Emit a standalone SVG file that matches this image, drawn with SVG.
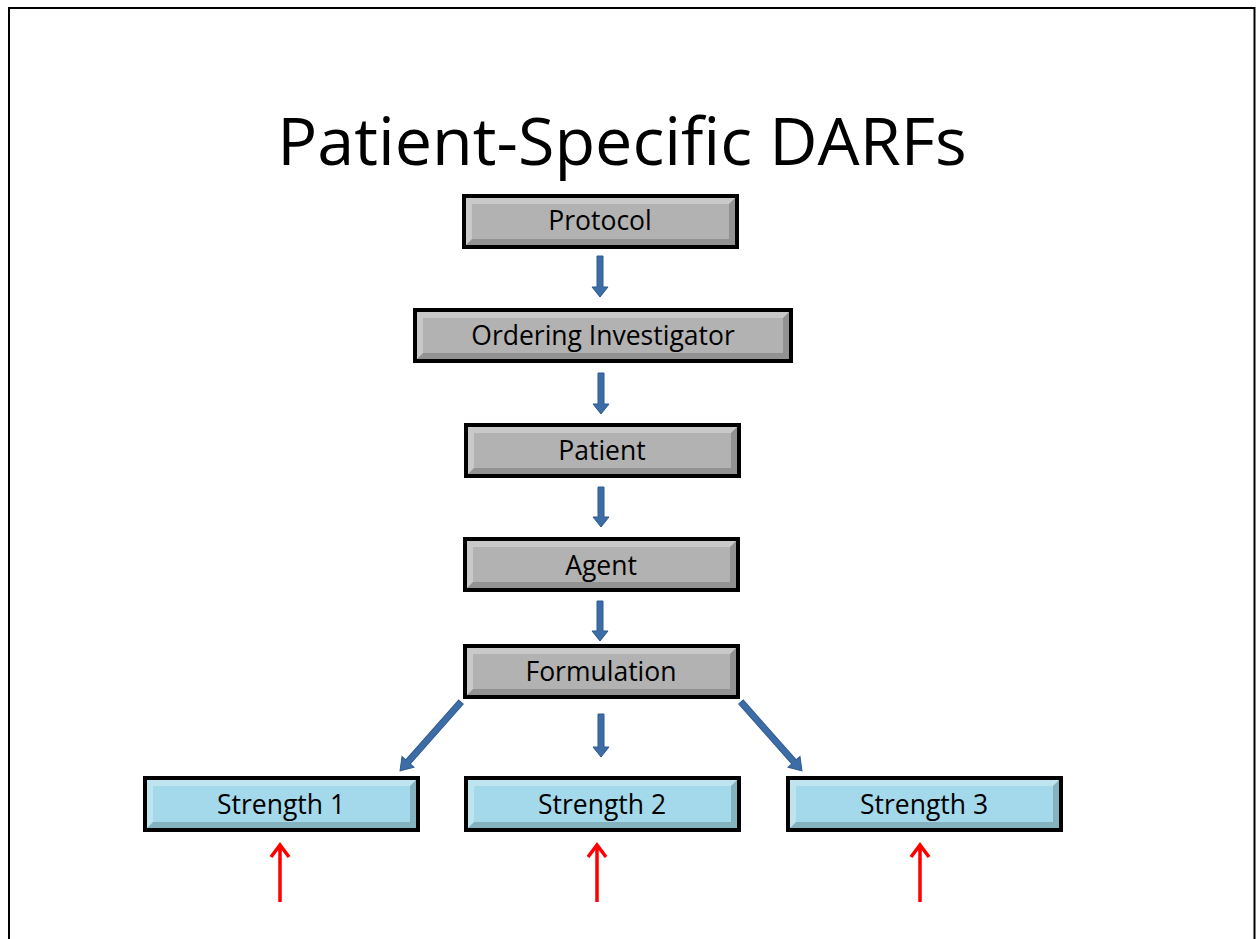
<svg xmlns="http://www.w3.org/2000/svg" width="1256" height="939" viewBox="0 0 1256 939">
<defs>
<style>
.box rect.b{stroke:#000;stroke-width:4}
.gray rect.b{fill:#b2b2b2}
.blue rect.b{fill:#a3d9ea}
.hi{fill:#ffffff;opacity:0.3}
.sh{fill:#000;opacity:0.18}
.lbl{font-family:"Open Sans","Liberation Sans",sans-serif;font-size:26.5px;fill:#000;text-anchor:middle}
.title{font-family:"Open Sans","Liberation Sans",sans-serif;font-size:66.5px;fill:#000;text-anchor:middle}
.ba{fill:#3d6da6;stroke:#2f5a8e;stroke-width:1}
.ra{stroke:#ff0000;stroke-width:3.5;fill:none}
</style>
</defs>
<rect x="0" y="0" width="1256" height="939" fill="#fff"/>
<path d="M9 945 V8 H1254.5 V945" fill="none" stroke="#000" stroke-width="2"/>
<text class="title" x="622" y="165">Patient-Specific DARFs</text>

<g id="protocol" class="box gray">
<rect class="b" x="464" y="196" width="273" height="51"/>
<path class="hi" d="M466 198 H735 L729 204 H472 V239 L466 245 Z"/>
<path class="sh" d="M735 198 V245 H466 L472 239 H729 V204 Z"/>
<text class="lbl" x="600" y="230">Protocol</text>
</g>
<g id="investigator" class="box gray">
<rect class="b" x="415" y="310" width="376" height="51"/>
<path class="hi" d="M417 312 H789 L783 318 H423 V353 L417 359 Z"/>
<path class="sh" d="M789 312 V359 H417 L423 353 H783 V318 Z"/>
<text class="lbl" x="603" y="345">Ordering Investigator</text>
</g>
<g id="patient" class="box gray">
<rect class="b" x="466" y="425" width="273" height="51"/>
<path class="hi" d="M468 427 H737 L731 433 H474 V468 L468 474 Z"/>
<path class="sh" d="M737 427 V474 H468 L474 468 H731 V433 Z"/>
<text class="lbl" x="602" y="460">Patient</text>
</g>
<g id="agent" class="box gray">
<rect class="b" x="465" y="539" width="273" height="51"/>
<path class="hi" d="M467 541 H736 L730 547 H473 V582 L467 588 Z"/>
<path class="sh" d="M736 541 V588 H467 L473 582 H730 V547 Z"/>
<text class="lbl" x="601" y="575">Agent</text>
</g>
<g id="formulation" class="box gray">
<rect class="b" x="465" y="646" width="273" height="51"/>
<path class="hi" d="M467 648 H736 L730 654 H473 V689 L467 695 Z"/>
<path class="sh" d="M736 648 V695 H467 L473 689 H730 V654 Z"/>
<text class="lbl" x="601" y="681">Formulation</text>
</g>
<g id="strength1" class="box blue">
<rect class="b" x="145" y="778" width="273" height="52"/>
<path class="hi" d="M147 780 H416 L410 786 H153 V822 L147 828 Z"/>
<path class="sh" d="M416 780 V828 H147 L153 822 H410 V786 Z"/>
<text class="lbl" x="281" y="814">Strength 1</text>
</g>
<g id="strength2" class="box blue">
<rect class="b" x="466" y="778" width="273" height="52"/>
<path class="hi" d="M468 780 H737 L731 786 H474 V822 L468 828 Z"/>
<path class="sh" d="M737 780 V828 H468 L474 822 H731 V786 Z"/>
<text class="lbl" x="602" y="814">Strength 2</text>
</g>
<g id="strength3" class="box blue">
<rect class="b" x="788" y="778" width="273" height="52"/>
<path class="hi" d="M790 780 H1059 L1053 786 H796 V822 L790 828 Z"/>
<path class="sh" d="M1059 780 V828 H790 L796 822 H1053 V786 Z"/>
<text class="lbl" x="924" y="814">Strength 3</text>
</g>

<g id="connectors">
<path class="ba" d="M597 256 H603 V287 H608 L600 297 L592 287 H597 Z"/>
<path class="ba" d="M598 373 H604 V404 H609 L601 414 L593 404 H598 Z"/>
<path class="ba" d="M598 487 H604 V517 H609 L601 527 L593 517 H598 Z"/>
<path class="ba" d="M597 601 H603 V631 H608 L600 641 L592 631 H597 Z"/>
<path class="ba" d="M598 714 H604 V747 H609 L601 757 L593 747 H598 Z"/>
<g transform="translate(461,702) rotate(41.5)">
<path class="ba" d="M-3 0 H3 V80 H8 L0 92 L-8 80 H-3 Z"/>
</g>
<g transform="translate(741,702) rotate(-41.5)">
<path class="ba" d="M-3 0 H3 V80 H8 L0 92 L-8 80 H-3 Z"/>
</g>
<g class="ra">
<path d="M280 902 V846 M271 857 L280 845 L289 857"/>
<path d="M597 902 V846 M588 857 L597 845 L606 857"/>
<path d="M920 902 V846 M911 857 L920 845 L929 857"/>
</g>
</g>
</svg>
